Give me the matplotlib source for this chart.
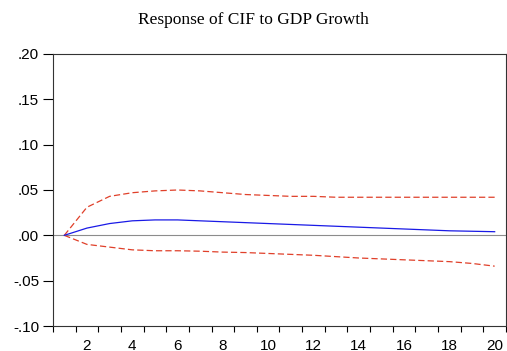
import matplotlib.pyplot as plt
import numpy as np

# impulse response of CIF to a GDP growth shock, with +/- 2 s.e. bands
periods = np.arange(1, 21)
response = [0.000, 0.008, 0.013, 0.016, 0.017, 0.017, 0.016, 0.015, 0.014, 0.013,
            0.012, 0.011, 0.010, 0.009, 0.008, 0.007, 0.006, 0.005, 0.0045, 0.004]
upper = [0.000, 0.031, 0.043, 0.047, 0.049, 0.050, 0.049, 0.047, 0.045, 0.044,
         0.043, 0.043, 0.042, 0.042, 0.042, 0.042, 0.042, 0.042, 0.042, 0.042]
lower = [0.000, -0.010, -0.013, -0.016, -0.017, -0.017, -0.0175, -0.0185, -0.019, -0.020,
         -0.021, -0.022, -0.0235, -0.025, -0.026, -0.027, -0.028, -0.029, -0.031, -0.034]

yticks = [-0.10, -0.05, 0.00, 0.05, 0.10, 0.15, 0.20]
ylabels = ['-.10', '-.05', '.00', '.05', '.10', '.15', '.20']
xlabels = [2, 4, 6, 8, 10, 12, 14, 16, 18, 20]

fig = plt.figure(figsize=(5.07, 3.51), dpi=100)
ax = fig.add_axes([0.1045, 0.0712, 0.8935, 0.775])

ax.axhline(0, color='#8c8c8c', lw=0.8, zorder=1)
ax.plot(periods, upper, color='#e0402a', lw=0.9, ls=(0, (5, 2.5)))
ax.plot(periods, lower, color='#e0402a', lw=0.9, ls=(0, (5, 2.5)))
ax.plot(periods, response, color='#1a1ae6', lw=0.9)

ax.set_xlim(0.5, 20.5)
ax.set_ylim(-0.10, 0.20)

ax.set_yticks(yticks)
ax.set_yticklabels(ylabels, fontsize=11, family='Liberation Sans')
ax.tick_params(axis='y', direction='out', length=7, width=0.8, pad=3)

# period labels sit between the boundary tick marks
ax.set_xticks(xlabels)
ax.set_xticklabels([str(v) for v in xlabels], fontsize=11, family='Liberation Sans')
ax.set_xticks(np.arange(0.5, 21, 1), minor=True)
ax.tick_params(axis='x', which='major', length=0, pad=9)
ax.tick_params(axis='x', which='minor', direction='out', length=4.5, width=0.8)

for s in ax.spines.values():
    s.set_color('#333333')
    s.set_linewidth(0.8)

fig.text(0.5, 0.942, 'Response of CIF to GDP Growth', ha='center', va='center',
         fontsize=12.5, family='Liberation Serif')

fig.savefig('out.png', dpi=100)
